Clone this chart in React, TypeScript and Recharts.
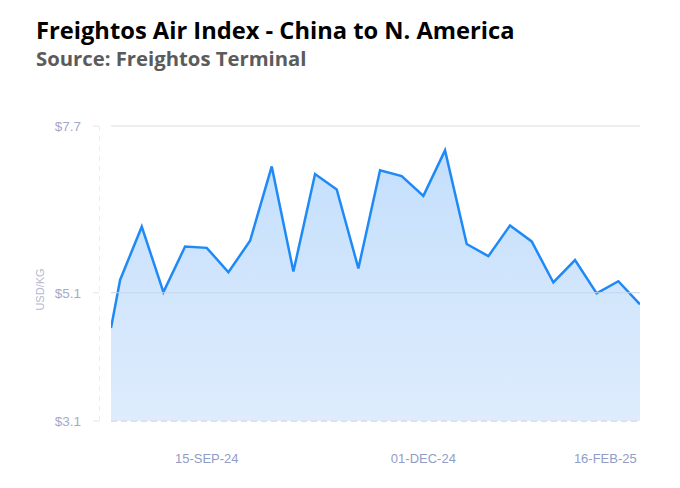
import React from "react"
import {
  AreaChart,
  Area,
  XAxis,
  YAxis,
  ReferenceLine,
  useOffset,
  useChartHeight,
} from "recharts"

document.body.style.margin = "0"

// weekly points (index), first one is partly cut by the axis
const WEEK = [-0.42, 0, 1, 2, 3, 4, 5, 6, 7, 8, 9, 10, 11, 12, 13, 14, 15, 16, 17, 18, 19, 20, 21, 22, 23, 24]
const PRICE = [
  4.55, 5.3, 6.13, 5.11, 5.82, 5.8, 5.42, 5.91, 7.07, 5.43, 6.95, 6.71, 5.48,
  7.01, 6.92, 6.61, 7.32, 5.86, 5.67, 6.15, 5.9, 5.26, 5.61, 5.09, 5.28, 4.92,
]
const Y_TICKS = [3.1, 5.1, 7.7]
const X_TICK_POS = [4, 14, 22.4]
const X_TICK_LABELS = ["15-SEP-24", "01-DEC-24", "16-FEB-25"]

const data = WEEK.map((w, i) => ({ week: w, price: PRICE[i] }))

const AXIS_FONT = "'Liberation Sans', Arial, sans-serif"

function YTick(props: any) {
  const { x, y, payload } = props
  return (
    <g>
      <line x1={x - 10} x2={x - 4} y1={y} y2={y} stroke="#e4e4ec" strokeWidth={1} />
      <text
        x={x - 22}
        y={y}
        dy={5}
        textAnchor="end"
        fontSize={13.5}
        fontFamily={AXIS_FONT}
        fill="#a3a9c9"
      >
        ${payload.value.toFixed(1)}
      </text>
    </g>
  )
}

// dashed y axis line sits a bit left of the plot area
function AxisRule() {
  const offset = useOffset()
  const h = useChartHeight()
  if (!offset || !h) return null
  const x = offset.left - 11.5
  return (
    <line
      x1={x}
      x2={x}
      y1={offset.top}
      y2={h - offset.bottom}
      stroke="#ececf2"
      strokeDasharray="5 5"
      strokeWidth={1}
    />
  )
}

export default function App() {
  return (
    <div style={{ position: "relative", width: 680, height: 488, background: "#fff" }}>
      <div
        style={{
          position: "absolute",
          left: 36,
          top: 15,
          fontFamily: "'Open Sans', sans-serif",
          fontWeight: 700,
          fontSize: 23.7,
          color: "#000",
          lineHeight: "30px",
        }}
      >
        Freightos Air Index - China to N. America
      </div>
      <div
        style={{
          position: "absolute",
          left: 36,
          top: 44,
          fontFamily: "'Open Sans', sans-serif",
          fontWeight: 700,
          fontSize: 20.3,
          color: "#5b5b5b",
          lineHeight: "28px",
        }}
      >
        Source: Freightos Terminal
      </div>

      <div style={{ position: "absolute", left: 0, top: 0 }}>
        <AreaChart
          width={680}
          height={488}
          data={data}
          margin={{ top: 126, right: 40, bottom: 0, left: 0 }}
        >
          <defs>
            <linearGradient id="fillAir" x1="0" y1="0" x2="0" y2="1">
              <stop offset="0%" stopColor="#c4dffc" />
              <stop offset="100%" stopColor="#deecfd" />
            </linearGradient>
          </defs>
          <XAxis
            dataKey="week"
            type="number"
            domain={[-0.42, 24]}
            allowDataOverflow
            ticks={X_TICK_POS}
            tickFormatter={(v: number) => X_TICK_LABELS[X_TICK_POS.indexOf(v)] ?? ""}
            axisLine={false}
            tickLine={false}
            height={67}
            tick={{ fontSize: 13, fill: "#919dc6", fontFamily: AXIS_FONT, dy: 25 }}
          />
          <YAxis
            type="number"
            domain={[3.1, 7.7]}
            ticks={Y_TICKS}
            width={111}
            axisLine={false}
            tickLine={false}
            tick={<YTick />}
            label={{
              value: "USD/KG",
              angle: -90,
              position: "insideLeft",
              offset: 40,
              dy: 16,
              style: { fontSize: 11, fill: "#b4b8d0", fontFamily: AXIS_FONT, textAnchor: "middle" },
            }}
          />
          <AxisRule />
          <Area
            type="linear"
            dataKey="price"
            stroke="none"
            fill="url(#fillAir)"
            fillOpacity={1}
            isAnimationActive={false}
          />
          <ReferenceLine y={7.7} stroke="#eeeeee" strokeWidth={2} />
          <ReferenceLine y={5.1} stroke="#c9d6ea" strokeWidth={1} />
          <ReferenceLine y={3.1} stroke="#e0e0e8" strokeWidth={2} strokeDasharray="6 4" />
          <Area
            type="linear"
            dataKey="price"
            stroke="#1f8af5"
            strokeWidth={2.5}
            fill="none"
            dot={false}
            activeDot={false}
            isAnimationActive={false}
          />
        </AreaChart>
      </div>
    </div>
  )
}
